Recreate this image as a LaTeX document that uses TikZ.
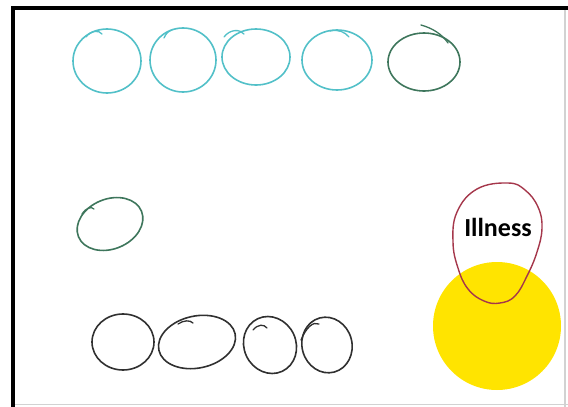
\documentclass[tikz,border=0pt]{standalone}
\usepackage{fontspec}
\newfontfamily\labelfont{Carlito}
\usepackage{xcolor}
\usepackage{tikz}
\usetikzlibrary{positioning,calc}

\definecolor{penCyan}{RGB}{82,192,200}
\definecolor{penGreen}{RGB}{62,118,92}
\definecolor{penBlack}{RGB}{48,48,48}
\definecolor{penRed}{RGB}{165,55,75}
\definecolor{sunYellow}{RGB}{255,228,0}

\tikzset{
    pen/.style={line width=1.6pt, line cap=round},
    hook/.style={line width=1.3pt, line cap=round},
}

\begin{document}
\begin{tikzpicture}[x=1pt, y=-1pt]
    \useasboundingbox (0,0) rectangle (568,407);

    % frame
    \draw[gray!35, line width=1.5pt] (565,8) -- (565,407);
    \draw[gray!35, line width=1.5pt] (13,404.5) -- (568,404.5);
    \draw[line width=4pt] (13,407) -- (13,8) -- (568,8);

    % top row
    \draw[pen, penCyan] (107,61) ellipse [x radius=34, y radius=32];
    \draw[hook, penCyan] (86,37) .. controls (91,30) and (99,30) .. (102,34);
    \draw[pen, penCyan] (183,60) ellipse [x radius=33, y radius=32];
    \draw[hook, penCyan] (164,38) .. controls (166,33) and (169,31) .. (172,30);
    \draw[pen, penCyan] (256,57) ellipse [x radius=34, y radius=28];
    \draw[hook, penCyan] (224,37) .. controls (230,29) and (240,29) .. (244,34);
    \draw[pen, penCyan] (337,60) ellipse [x radius=35, y radius=30];
    \draw[hook, penCyan] (330,31) .. controls (338,29) and (345,32) .. (349,37);
    \draw[pen, penGreen] (424,62) ellipse [x radius=36, y radius=29];
    \draw[hook, penGreen] (421,25) .. controls (432,28) and (442,34) .. (448,43);

    % middle
    \draw[pen, penGreen] (110,224) ellipse [x radius=34, y radius=25, rotate=22];
    \draw[hook, penGreen] (82,214) .. controls (86,208) and (91,206) .. (94,209);

    % bottom row
    \draw[pen, penBlack] (123,342) ellipse [x radius=31, y radius=28];
    \draw[pen, penBlack] (197,342) ellipse [x radius=39, y radius=26, rotate=12];
    \draw[hook, penBlack] (178,324) .. controls (184,320) and (190,320) .. (193,323);
    \draw[pen, penBlack] (270,345) ellipse [x radius=26, y radius=29, rotate=25];
    \draw[hook, penBlack] (253,330) .. controls (258,324) and (264,324) .. (267,328);
    \draw[pen, penBlack] (327,345) ellipse [x radius=25, y radius=28, rotate=15];
    \draw[hook, penBlack] (301,340) .. controls (306,328) and (313,321) .. (319,324);

    % illness
    \fill[sunYellow] (497,326) circle [radius=64];
    \draw[pen, line width=1.4pt, penRed] plot[smooth cycle, tension=0.7] coordinates {
        (508,183) (525,190) (538,207) (542,228) (537,252) (527,276)
        (515,296) (500,303) (484,301) (468,289) (458,268) (453,242)
        (457,212) (477,189)};
    \node[font=\labelfont\bfseries\fontsize{26}{30}\selectfont] (illness) at (498,227) {Illness};
\end{tikzpicture}
\end{document}
